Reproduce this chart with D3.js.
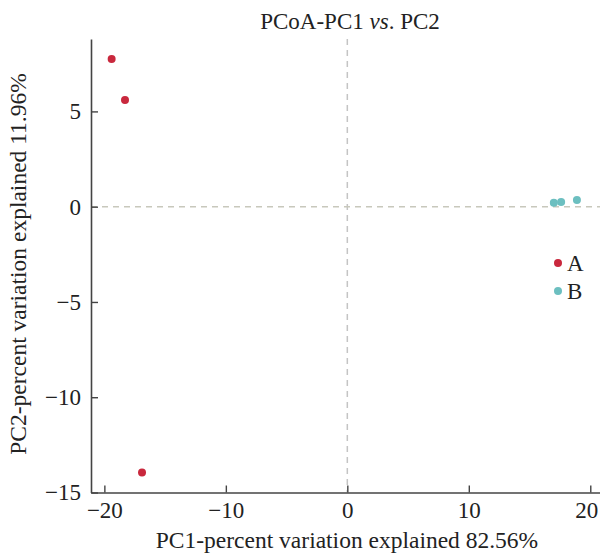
<!DOCTYPE html>
<html lang="en">
<head>
  <meta charset="UTF-8">
  <title>PCoA</title>
  <script src="https://d3js.org/d3.v7.min.js"></script>
  <style>
    body { margin: 0; background: #fff; }
    text { font-family: "Liberation Serif", "Times New Roman", serif; fill: #222; }
  </style>
</head>
<body>
  <div id="chart"></div>
  <script>
  var groups = ["A", "B"];
  var colors = ["#c9283d", "#6cbfc0"];

  var pc1 = [-19.4, -18.3, -16.9, 17.0, 17.6, 18.9];
  var pc2 = [7.75, 5.6, -13.95, 0.2, 0.25, 0.35];
  var group = ["A", "A", "A", "B", "B", "B"];

  var xTicks = [-20, -10, 0, 10, 20];
  var yTicks = [-15, -10, -5, 0, 5];

  var w = 600, h = 555;
  var margin = {top: 39, right: 0, bottom: 62.5, left: 91};

  var svg = d3.select("#chart").append("svg")
    .attr("width", w)
    .attr("height", h);

  var x = d3.scaleLinear().domain([-21.1, 20.8]).range([margin.left, w - margin.right]);
  var y = d3.scaleLinear().domain([-15, 8.8]).range([h - margin.bottom, margin.top]);

  // dashed zero lines
  svg.append("line")
    .attr("x1", x(0)).attr("x2", x(0))
    .attr("y1", y(8.8)).attr("y2", y(-15))
    .attr("stroke", "#c4c4c4").attr("stroke-width", 1.5)
    .attr("stroke-dasharray", "6,5");
  svg.append("line")
    .attr("x1", x(-21.1)).attr("x2", x(20.8))
    .attr("y1", y(0)).attr("y2", y(0))
    .attr("stroke", "#c8c8bc").attr("stroke-width", 1.5)
    .attr("stroke-dasharray", "6,5");

  var xAxis = svg.append("g")
    .attr("transform", "translate(0," + y(-15) + ")")
    .call(d3.axisBottom(x).tickValues(xTicks).tickSizeInner(-7).tickSizeOuter(0).tickPadding(9)
      .tickFormat(d => d < 0 ? "\u2212" + Math.abs(d) : d));
  var yAxis = svg.append("g")
    .attr("transform", "translate(" + x(-21.1) + ",0)")
    .call(d3.axisLeft(y).tickValues(yTicks).tickSizeInner(-7).tickSizeOuter(0).tickPadding(10)
      .tickFormat(d => d < 0 ? "\u2212" + Math.abs(d) : d));

  [xAxis, yAxis].forEach(function(a) {
    a.select(".domain").attr("stroke", "#444").attr("stroke-width", 1.6);
    a.selectAll(".tick line").attr("stroke", "#444").attr("stroke-width", 1.4);
    a.selectAll(".tick text")
      .style("font-family", "Liberation Serif, serif")
      .style("font-size", "23px").attr("fill", "#222");
  });
  // keep the last x label inside the frame
  xAxis.selectAll(".tick text").filter(d => d === 20).attr("dx", -4);

  var color = d3.scaleOrdinal().domain(groups).range(colors);

  svg.selectAll("circle.pt")
    .data(pc1)
    .enter()
    .append("circle")
    .attr("class", "pt")
    .attr("cx", d => x(d))
    .attr("cy", (d, i) => y(pc2[i]))
    .attr("r", 4)
    .attr("fill", (d, i) => color(group[i]));

  // legend
  var legend = svg.selectAll("g.leg")
    .data(groups)
    .enter()
    .append("g")
    .attr("transform", (d, i) => "translate(558," + (263 + i * 28) + ")");
  legend.append("circle").attr("r", 4).attr("fill", d => color(d));
  legend.append("text")
    .attr("x", 9).attr("y", 8)
    .style("font-size", "23px")
    .text(d => d);

  // titles
  svg.append("text")
    .attr("x", 350).attr("y", 29)
    .attr("text-anchor", "middle")
    .style("font-size", "23px")
    .html('PCoA-PC1 <tspan font-style="italic">vs</tspan>. PC2');

  svg.append("text")
    .attr("x", 347).attr("y", 548)
    .attr("text-anchor", "middle")
    .style("font-size", "23.5px")
    .text("PC1-percent variation explained 82.56%");

  svg.append("text")
    .attr("transform", "translate(26," + 264 + ") rotate(-90)")
    .attr("text-anchor", "middle")
    .style("font-size", "23.5px")
    .text("PC2-percent variation explained 11.96%");
  </script>
</body>
</html>
